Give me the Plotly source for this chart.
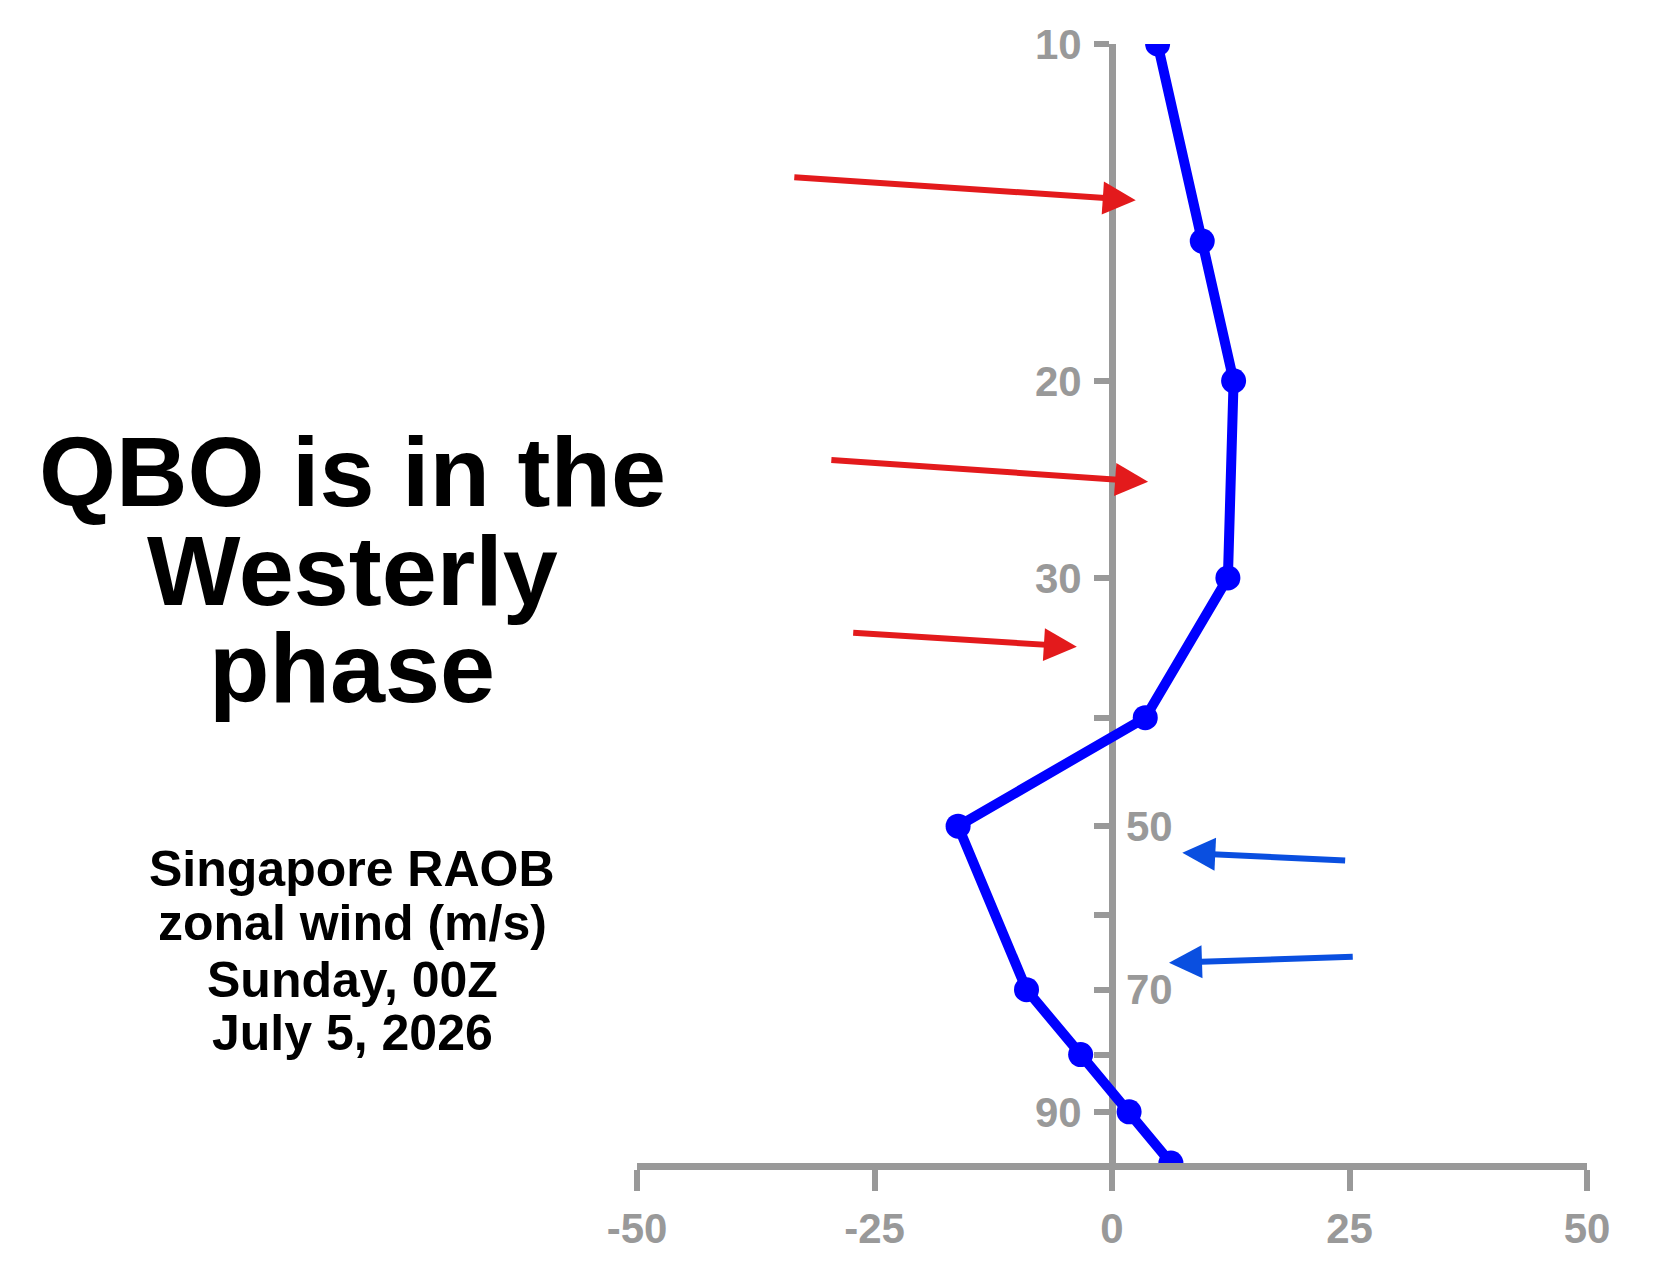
import plotly.graph_objects as go
import math

# ---- data ----
pressure_hpa = [10, 15, 20, 30, 40, 50, 70, 80, 90, 100]
zonal_wind = [4.8, 9.5, 12.8, 12.2, 3.5, -16.2, -9.0, -3.3, 1.8, 6.2]

y_tickvals_left = [10, 20, 30, 40, 50, 60, 70, 80, 90]
y_ticktext_left = ["10", "20", "30", "", "", "", "", "", "90"]
y_tickvals_right = [50, 70]
y_ticktext_right = ["50", "70"]
x_tickvals = [-50, -25, 0, 25, 50]
x_ticktext = ["-50", "-25", "0", "25", "50"]

title_lines = ["QBO is in the", "Westerly", "phase"]
subtitle_lines = ["Singapore RAOB", "zonal wind (m/s)", "Sunday, 00Z", "July 5, 2026"]

# arrows: (tip_x, tip_p, tail_x, tail_p) in data units
red_arrows = [
    (2.5, 13.79, -33.6, 13.15),
    (3.8, 24.62, -29.7, 23.53),
    (-3.7, 34.56, -27.4, 33.58),
]
blue_arrows = [
    (7.4, 52.81, 24.7, 53.68),
    (6.0, 66.23, 25.5, 65.41),
]

# ---- layout geometry (pixels) ----
W, H = 1670, 1266
L, R, T, B = 637, 83, 44, 103
plot_w = W - L - R
plot_h = H - T - B

GRAY = "#999999"
FONT = "Liberation Sans, Arial, Helvetica, sans-serif"


def px_x(px):
    return (px - L) / plot_w


def px_y(py):
    return (H - B - py) / plot_h


fig = go.Figure()
fig.add_trace(go.Scatter(
    x=zonal_wind, y=pressure_hpa, mode="lines+markers",
    line=dict(color="#0000FF", width=10),
    marker=dict(color="#0000FF", size=25),
    cliponaxis=True, showlegend=False, hoverinfo="skip",
))

tickfont = dict(family=FONT, size=42, color=GRAY, weight="bold")

annotations = []
for (tx, tp, ax, ap) in red_arrows:
    annotations.append(dict(
        x=tx, y=math.log10(tp), ax=ax, ay=math.log10(ap),
        xref="x", yref="y", axref="x", ayref="y",
        showarrow=True, arrowhead=2, arrowsize=1.1, arrowwidth=6,
        arrowcolor="#E31A1C", text="",
    ))
for (tx, tp, ax, ap) in blue_arrows:
    annotations.append(dict(
        x=tx, y=math.log10(tp), ax=ax, ay=math.log10(ap),
        xref="x", yref="y", axref="x", ayref="y",
        showarrow=True, arrowhead=2, arrowsize=1.1, arrowwidth=6,
        arrowcolor="#0A4FE0", text="",
    ))

# right-side y tick labels (50, 70)
for val, txt in zip(y_tickvals_right, y_ticktext_right):
    annotations.append(dict(
        x=0, y=math.log10(val), xref="x", yref="y",
        xanchor="left", yanchor="middle", xshift=12, showarrow=False,
        text=f"<b>{txt}</b>", font=tickfont,
    ))

title_size = 99
title_baselines = [504, 603, 700]
for line, base in zip(title_lines, title_baselines):
    annotations.append(dict(
        x=px_x(352), y=px_y(base - 0.33 * title_size), xref="paper", yref="paper",
        xanchor="center", yanchor="middle", showarrow=False, text=f"<b>{line}</b>",
        font=dict(family=FONT, size=title_size, color="black"),
    ))

sub_size = 50
sub_baselines = [885, 939, 996, 1049]
for line, base in zip(subtitle_lines, sub_baselines):
    annotations.append(dict(
        x=px_x(352), y=px_y(base - 0.33 * sub_size), xref="paper", yref="paper",
        xanchor="center", yanchor="middle", showarrow=False, text=f"<b>{line}</b>",
        font=dict(family=FONT, size=sub_size, color="black"),
    ))

fig.update_layout(
    width=W, height=H,
    margin=dict(l=L, r=R, t=T, b=B, pad=0, autoexpand=False),
    paper_bgcolor="white", plot_bgcolor="white",
    annotations=annotations,
    xaxis=dict(
        range=[-50, 50], domain=[0, 1], anchor="y", automargin=False,
        tickvals=x_tickvals, ticktext=x_ticktext,
        showgrid=False, zeroline=False,
        showline=True, linecolor=GRAY, linewidth=7,
        ticks="outside", ticklen=21, tickwidth=6, tickcolor=GRAY,
        tickfont=tickfont, ticklabelstandoff=2, layer="below traces",
    ),
    yaxis=dict(
        type="log", range=[2, 1], anchor="free", position=0.5, automargin=False,
        tickvals=y_tickvals_left, ticktext=y_ticktext_left,
        showgrid=False, zeroline=False,
        showline=True, linecolor=GRAY, linewidth=7,
        ticks="outside", ticklen=15, tickwidth=6, tickcolor=GRAY,
        tickfont=tickfont, ticklabelstandoff=4, layer="below traces",
    ),
)

fig.write_html("out.html")
